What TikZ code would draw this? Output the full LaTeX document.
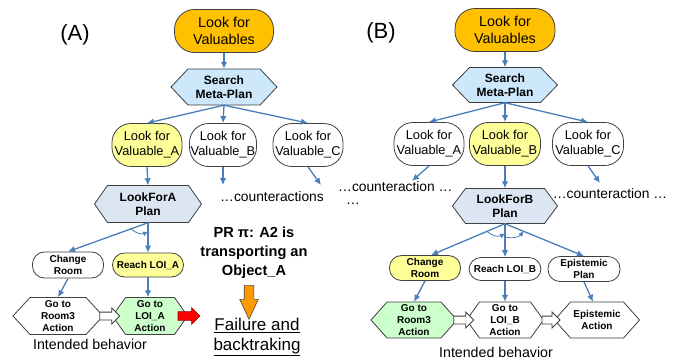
\documentclass[tikz,border=0pt]{standalone}
\usepackage{fontspec}
\setmainfont{Liberation Sans}
\usetikzlibrary{arrows.meta,calc,shapes.arrows}

\definecolor{arrblue}{HTML}{4A7EBB}
\definecolor{valorange}{HTML}{FFC000}
\definecolor{metablue}{HTML}{CCE8FA}
\definecolor{yel}{HTML}{FFFF99}
\definecolor{planblue}{HTML}{DCE6F2}
\definecolor{actgreen}{HTML}{CCFFCC}
\definecolor{bord}{HTML}{404040}
\definecolor{orarrow}{HTML}{FF9900}

\newcommand{\fTop}{\fontsize{14.3}{17.5}\selectfont}
\newcommand{\fVal}{\fontsize{12.8}{15}\selectfont}
\newcommand{\fMeta}{\bfseries\fontsize{12}{14.5}\selectfont}
\newcommand{\fSmall}{\bfseries\fontsize{10}{12.3}\selectfont}
\newcommand{\fPR}{\bfseries\fontsize{14.6}{19}\selectfont}
\newcommand{\fFail}{\fontsize{17}{20}\selectfont}
\newcommand{\fCounter}{\fontsize{13.8}{13}\selectfont}
\newcommand{\fLabel}{\fontsize{22}{24}\selectfont}
\newcommand{\fIntended}{\fontsize{14.2}{16}\selectfont}

\tikzset{
  conn/.style={draw=arrblue, line width=1.3pt, -{Latex[length=7pt,width=6.5pt]}},
  arcarr/.style={draw=arrblue, line width=0.8pt, -{Latex[length=5pt,width=5pt]}},
  roundbox/.style={draw=bord, line width=0.8pt, rounded corners=#1, inner sep=0pt, align=center},
  hexline/.style={draw=bord, line width=0.8pt},
  hextext/.style={inner sep=0pt, align=center},
  plaintext/.style={inner sep=0pt, align=center},
  hollowarr/.style={single arrow, draw=bord, fill=white, line width=0.8pt, minimum height=20pt,
     inner xsep=0pt, inner ysep=3.5pt, single arrow head extend=4pt, single arrow tip angle=90},
  redarr/.style={single arrow, draw=red!60!black, fill=red, line width=0.6pt, minimum height=22pt,
     inner xsep=0pt, inner ysep=4pt, single arrow head extend=4pt, single arrow tip angle=90},
  orarr/.style={single arrow, draw=black!70, fill=orarrow, line width=0.6pt, minimum height=34pt,
     inner xsep=0pt, inner ysep=4.5pt, single arrow head extend=4.5pt, single arrow tip angle=50},
}

% [font] name, x, y, width, height, inset, fill, text
\newcommand{\hexnode}[9][\fSmall]{%
  \filldraw[hexline, fill=#8] (#3-#5/2,#4) -- (#3-#5/2+#7,#4-#6/2) -- (#3+#5/2-#7,#4-#6/2)
     -- (#3+#5/2,#4) -- (#3+#5/2-#7,#4+#6/2) -- (#3-#5/2+#7,#4+#6/2) -- cycle;
  \node[hextext, font=#1, minimum width=#5pt, minimum height=#6pt] (#2) at (#3,#4) {#9};}

\begin{document}
\begin{tikzpicture}[x=1pt, y=-1pt]
\useasboundingbox (0,0) rectangle (688,360);
\fill[white] (0,0) rectangle (688,360);

% ================= (A) =================
\node[plaintext, font=\fLabel] (lblA) at (75,35) {(A)};
\node[roundbox=20pt, fill=valorange, minimum width=99pt, minimum height=43pt, font=\fTop] (lvA) at (224,31) {Look for\\Valuables};
\hexnode[\fMeta]{mpA}{224}{87}{106}{36}{17}{metablue}{Search\\Meta-Plan}
\node[roundbox=19pt, fill=yel, minimum width=70pt, minimum height=43pt, font=\fVal] (vaA) at (147,145) {Look for\\Valuable\_A};
\node[roundbox=19pt, fill=white, minimum width=67pt, minimum height=43pt, font=\fVal] (vbA) at (223,145) {Look for\\Valuable\_B};
\node[roundbox=19pt, fill=white, minimum width=70pt, minimum height=43pt, font=\fVal] (vcA) at (308,145) {Look for\\Valuable\_C};
\node[plaintext, font=\fCounter] (caA) at (272,197) {…counteractions};
\hexnode[\fMeta]{pA}{148}{204}{107}{37}{13}{planblue}{LookForA\\Plan}
\node[roundbox=12pt, fill=white, minimum width=71pt, minimum height=26pt, font=\fSmall] (crA) at (68,265) {Change\\Room};
\node[roundbox=12pt, fill=yel, minimum width=71pt, minimum height=24pt, font=\fSmall] (rlA) at (148,265) {Reach LOI\_A};
\hexnode{grA}{58}{316}{90}{37}{17}{white}{Go to\\Room3\\Action}
\hexnode{glA}{150}{316}{75}{37}{13}{actgreen}{Go to\\LOI\_A\\Action}
\node[plaintext, font=\fIntended] (ibA) at (90,344) {Intended behavior};
\node[plaintext, font=\fPR] (prA) at (254,253) {PR π: A2 is\\transporting an\\Object\_A};
\node[plaintext, font=\fFail] (fbA) at (257,337) {\underline{Failure and}\\\underline{backtraking}};

\coordinate (vbAend) at (223,185);
\coordinate (vcAend) at (321,185);
\draw[conn] (lvA.south) -- (mpA.north);
\draw[conn] (mpA.south) -- (vaA.north);
\draw[conn] (mpA.south) -- (vbA.north);
\draw[conn] (mpA.south) -- (vcA.north);
\draw[conn] (vaA.south) -- (pA.north);
\draw[conn] (vbA.south) -- (vbAend);
\draw[conn] (vcA.south) -- (vcAend);
\draw[conn] (pA.south) -- (crA.north);
\draw[conn] (pA.south) -- (pA.south |- rlA.north);
\draw[conn] (crA.south) -- (grA.north);
\draw[conn] (rlA.south) -- (rlA.south |- glA.north);
\coordinate (aA1) at ($(pA.south)!18pt!(crA.north)$);
\coordinate (aA2) at ($(pA.south)!9pt!(pA.south |- rlA.north)$);
\draw[arcarr] (aA1) to[bend right=35] (aA2);

\node[hollowarr] (haA) at ($(grA.east)!0.5!(glA.west)$) {};
\node[redarr, anchor=tail] (raA) at ($(glA.east)+(-10,0)$) {};
\node[orarr, anchor=tail, rotate=-90] (oaA) at ($(prA.south)+(-5,6)$) {};

% ================= (B) =================
\node[plaintext, font=\fLabel] (lblB) at (381,33) {(B)};
\node[roundbox=20pt, fill=valorange, minimum width=100pt, minimum height=43pt, font=\fTop] (lvB) at (505,30) {Look for\\Valuables};
\hexnode[\fMeta]{mpB}{505}{85}{105}{35}{17}{metablue}{Search\\Meta-Plan}
\node[roundbox=19pt, fill=white, minimum width=70pt, minimum height=43pt, font=\fVal] (vaB) at (429,144) {Look for\\Valuable\_A};
\node[roundbox=19pt, fill=yel, minimum width=71pt, minimum height=43pt, font=\fVal] (vbB) at (505,144) {Look for\\Valuable\_B};
\node[roundbox=19pt, fill=white, minimum width=71pt, minimum height=43pt, font=\fVal] (vcB) at (588,144) {Look for\\Valuable\_C};
\node[plaintext, font=\fCounter, align=left, anchor=west] (cbL) at (338,193) {…counteraction …\\\hspace*{8pt}…};
\node[plaintext, font=\fCounter] (cbR) at (610,194) {…counteraction …};
\hexnode[\fMeta]{pB}{505}{206}{105}{35}{13}{planblue}{LookForB\\Plan}
\node[roundbox=12pt, fill=yel, minimum width=71pt, minimum height=25pt, font=\fSmall] (crB) at (425,268) {Change\\Room};
\node[roundbox=12pt, fill=white, minimum width=72pt, minimum height=23pt, font=\fSmall] (rlB) at (505,269) {Reach LOI\_B};
\node[roundbox=12pt, fill=white, minimum width=72pt, minimum height=25pt, font=\fSmall] (epB) at (584,269) {Epistemic\\Plan};
\hexnode{grB}{414}{320}{86}{36}{16}{actgreen}{Go to\\Room3\\Action}
\hexnode{glB}{505}{320}{77}{36}{13}{white}{Go to\\LOI\_B\\Action}
\hexnode{eaB}{597}{320}{85}{36}{16}{white}{Epistemic\\Action}
\node[plaintext, font=\fIntended] (ibB) at (496,352) {Intended behavior};

\coordinate (vaBend) at (412,181);
\coordinate (vcBend) at (600,183);
\draw[conn] (lvB.south) -- (mpB.north);
\draw[conn] (mpB.south) -- (vaB.north);
\draw[conn] (mpB.south) -- (vbB.north);
\draw[conn] (mpB.south) -- (vcB.north);
\draw[conn] (vaB.south) -- (vaBend);
\draw[conn] (vbB.south) -- (pB.north);
\draw[conn] (vcB.south) -- (vcBend);
\draw[conn] (pB.south) -- ($(crB.north)+(6,0)$);
\draw[conn] (pB.south) -- (rlB.north);
\draw[conn] (pB.south) -- (epB.north);
\draw[conn] (crB.south) -- (grB.north);
\draw[conn] (rlB.south) -- (glB.north);
\draw[conn] (epB.south) -- ($(eaB.north)+(-4,0)$);
\coordinate (aB1) at ($(pB.south)!20pt!(crB.north)$);
\coordinate (aB2) at ($(pB.south)!10pt!(rlB.north)$);
\draw[arcarr] (aB1) to[bend right=35] (aB2);
\coordinate (aB3) at ($(pB.south)!13pt!(rlB.north)$);
\coordinate (aB4) at ($(pB.south)!20pt!(epB.north)$);
\draw[arcarr] (aB3) to[bend right=35] (aB4);

\node[hollowarr] (haB1) at ($(grB.east)!0.5!(glB.west)$) {};
\node[hollowarr, minimum height=18pt] (haB2) at ($(glB.east)!0.5!(eaB.west)$) {};
\end{tikzpicture}
\end{document}
